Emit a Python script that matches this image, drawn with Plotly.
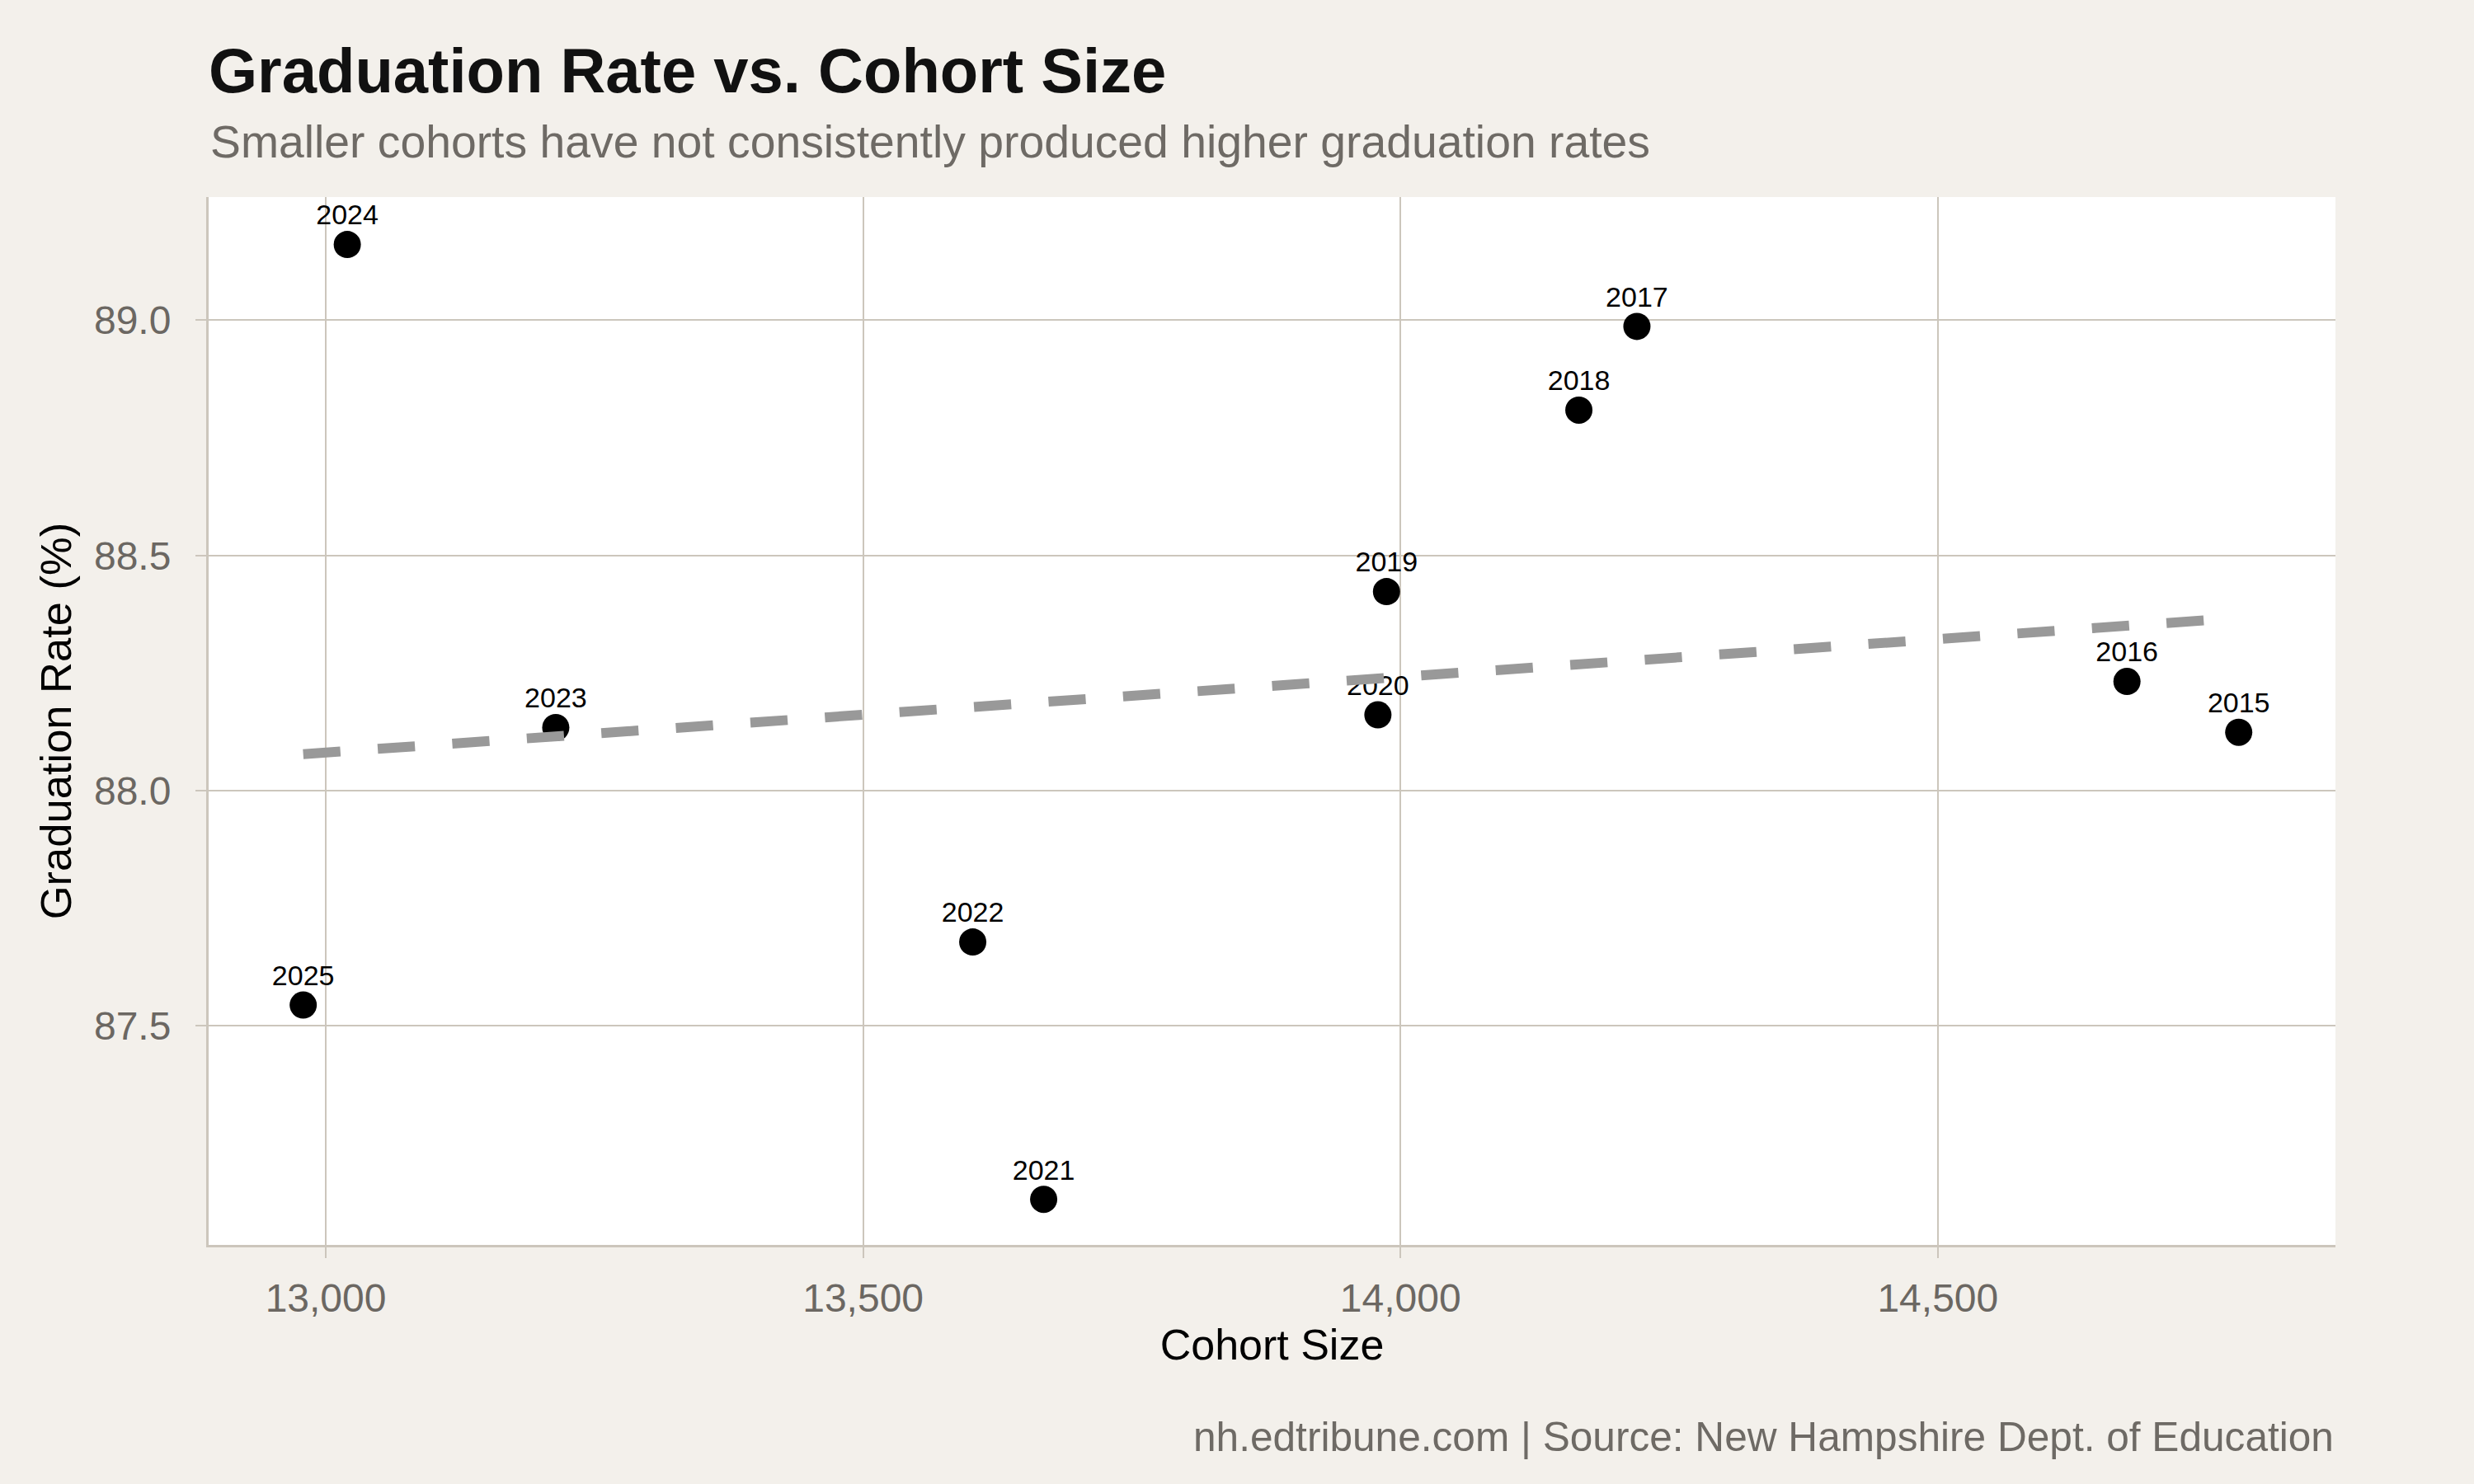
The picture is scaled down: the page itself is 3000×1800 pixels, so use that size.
import numpy as np
import plotly.graph_objects as go

# ---- data ----
years = ["2015", "2016", "2017", "2018", "2019", "2020", "2021", "2022", "2023", "2024", "2025"]
cohort_size = [14780, 14676, 14220, 14166, 13987, 13979, 13668, 13602, 13214, 13020, 12979]
grad_rate = [88.124, 88.232, 88.987, 88.809, 88.423, 88.161, 87.131, 87.678, 88.134, 89.161, 87.544]

x_ticks = [13000, 13500, 14000, 14500]
y_ticks = [87.5, 88.0, 88.5, 89.0]

TITLE = "Graduation Rate vs. Cohort Size"
SUBTITLE = "Smaller cohorts have not consistently produced higher graduation rates"
CAPTION = "nh.edtribune.com | Source: New Hampshire Dept. of Education"

# linear fit (trend line) over the data
slope, intercept = np.polyfit(cohort_size, grad_rate, 1)
trend_x = [min(cohort_size), max(cohort_size)]
trend_y = [slope * v + intercept for v in trend_x]

FONT = "Liberation Sans, Arial, Helvetica, sans-serif"
BG = "#f3f0eb"
GRID = "#ccc6bc"
TICKCOL = "#6b6762"

fig = go.Figure()

# visible points
fig.add_trace(go.Scatter(
    x=cohort_size, y=grad_rate, mode="markers",
    marker=dict(size=33, color="#000000", line=dict(width=0)),
    showlegend=False, hoverinfo="skip",
))

# year labels (transparent markers only set the label offset)
fig.add_trace(go.Scatter(
    x=cohort_size, y=grad_rate, mode="markers+text",
    text=years, textposition="top center",
    textfont=dict(family=FONT, size=34, color="#000000"),
    marker=dict(size=23.4, color="rgba(0,0,0,0)", line=dict(width=0)),
    showlegend=False, hoverinfo="skip",
))

# trend line
fig.add_trace(go.Scatter(
    x=trend_x, y=trend_y, mode="lines",
    line=dict(color="#999999", width=12, dash="45.2px,45.4px"),
    showlegend=False, hoverinfo="skip",
))

fig.update_layout(
    width=3000, height=1800,
    paper_bgcolor=BG, plot_bgcolor="#ffffff",
    margin=dict(l=253, r=168, t=239, b=290),
    font=dict(family=FONT),
    title=dict(
        text="<b>" + TITLE + "</b>",
        font=dict(family=FONT, size=76, color="#111111"),
        x=253 / 3000, xanchor="left", xref="container",
        y=1 - 85 / 1800, yanchor="middle", yref="container",
    ),
    annotations=[
        dict(text=SUBTITLE, xref="paper", yref="paper", x=0, xanchor="left",
             y=1 + (239 - 172) / (1510 - 239), yanchor="middle", showarrow=False,
             font=dict(family=FONT, size=55.3, color="#6e6a65")),
        dict(text=CAPTION, xref="paper", yref="paper", x=1, xanchor="right",
             y=-(1743 - 1510) / (1510 - 239), yanchor="middle", showarrow=False,
             font=dict(family=FONT, size=49.6, color="#6e6a65")),
    ],
)

fig.update_xaxes(
    range=[12891, 14870], tickvals=x_ticks, tickformat=",",
    showgrid=True, gridcolor=GRID, gridwidth=2, zeroline=False,
    showline=True, linecolor=GRID, linewidth=3,
    ticks="outside", ticklen=13, tickwidth=2, tickcolor=GRID,
    tickfont=dict(family=FONT, size=48, color=TICKCOL),
    ticklabelstandoff=7,
    title=dict(text="Cohort Size", font=dict(family=FONT, size=52, color="#000000"), standoff=14),
)
fig.update_yaxes(
    range=[87.034, 89.262], tickvals=y_ticks, tickformat=".1f",
    showgrid=True, gridcolor=GRID, gridwidth=2, zeroline=False,
    showline=True, linecolor=GRID, linewidth=3,
    ticks="outside", ticklen=13, tickwidth=2, tickcolor=GRID,
    tickfont=dict(family=FONT, size=48, color=TICKCOL),
    ticklabelstandoff=20,
    title=dict(text="Graduation Rate (%)", font=dict(family=FONT, size=52.5, color="#000000"), standoff=11),
)

fig.write_html(
    "out.html",
    config={"displayModeBar": False},
    post_script="document.body.style.margin='0';document.body.style.background='" + BG + "';",
)
